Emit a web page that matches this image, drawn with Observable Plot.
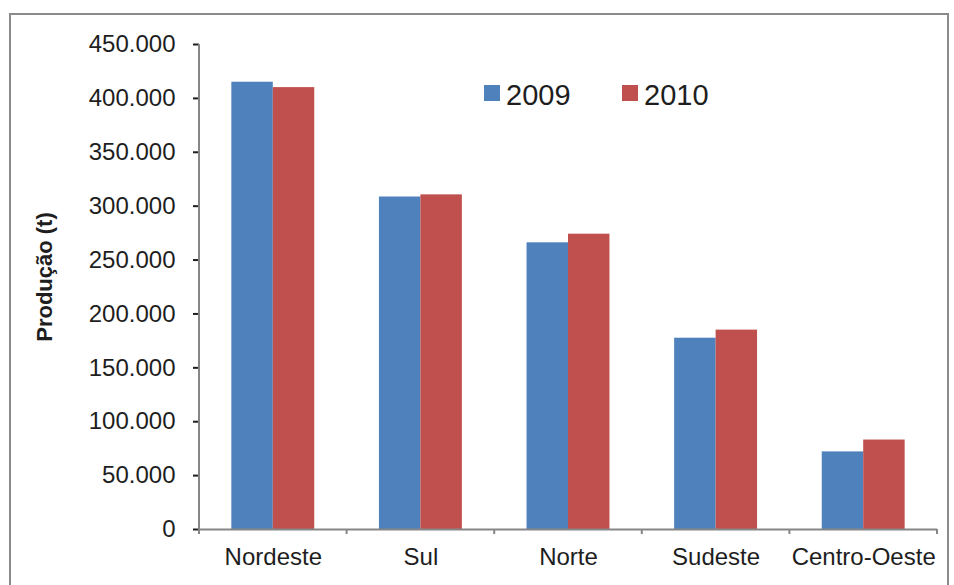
<!DOCTYPE html>
<html>
<head>
<meta charset="utf-8">
<script src="https://cdn.jsdelivr.net/npm/d3@7"></script>
<script src="https://cdn.jsdelivr.net/npm/@observablehq/plot@0.6"></script>
<style>
  html, body { margin: 0; padding: 0; background: #fff; }
  #wrap { position: relative; width: 954px; height: 585px; overflow: hidden; }
  #border { position: absolute; left: 9px; top: 13px; width: 940px; height: 640px;
            border: 2px solid #8a8a8a; box-sizing: border-box; }
  #chart { position: absolute; left: 0; top: 0; }
  svg { font-family: "Liberation Sans", Arial, sans-serif; }
</style>
</head>
<body>
<div id="wrap"><div id="border"></div><div id="chart"></div></div>
<script>
// Produção por região (toneladas), 2009 e 2010
const regions = ["Nordeste", "Sul", "Norte", "Sudeste", "Centro-Oeste"];
const years = ["2009", "2010"];
const values2009 = [415000, 308500, 266000, 177500, 72000];
const values2010 = [410000, 310500, 274000, 185000, 83000];
const yTicks = [0, 50000, 100000, 150000, 200000, 250000, 300000, 350000, 400000, 450000];
const yLabel = "Produção (t)";
const colors = ["#4F81BD", "#C0504D"];

const rows = [];
regions.forEach((r, i) => {
  rows.push({region: r, year: years[0], value: values2009[i]});
  rows.push({region: r, year: years[1], value: values2010[i]});
});

const ptBR = d3.formatLocale({decimal: ",", thousands: ".", grouping: [3], currency: ["R$", ""]});
const fmt = ptBR.format(",d");

const axisColor = "#868686";
const textColor = "#1e1e1e";

const chart = Plot.plot({
  width: 954,
  height: 585,
  marginLeft: 199,
  marginRight: 17,
  marginTop: 44,
  marginBottom: 56,
  style: {fontFamily: "Liberation Sans, Arial, sans-serif", fontSize: "24px", color: textColor, background: "transparent"},
  fx: {domain: regions, paddingInner: 0, paddingOuter: 0, round: false, label: null, axis: "bottom", tickSize: 0, tickPadding: 18},
  x: {domain: years, paddingInner: 0, paddingOuter: 0.78, round: false, axis: null},
  y: {domain: [0, 450000], ticks: yTicks, tickFormat: fmt, tickSize: 6, tickPadding: 18, label: null},
  color: {domain: years, range: colors},
  marks: [
    Plot.barY(rows, {fx: "region", x: "year", y: "value", fill: "year"}),
    Plot.ruleY([0], {stroke: axisColor, strokeWidth: 2})
  ]
});

document.getElementById("chart").appendChild(chart);

const svg = d3.select(chart);
svg.selectAll("[aria-label='y-axis tick']").attr("stroke", axisColor).attr("stroke-width", 2);

// axis line and category separator ticks, placed from the chart's own scales
const ys = chart.scale("y");
const fxs = chart.scale("fx");
const [yBottom, yTop] = ys.range;
const [fxLeft, fxRight] = fxs.range;
const step = (fxRight - fxLeft) / fxs.domain.length;
const g = svg.append("g").attr("stroke", axisColor).attr("stroke-width", 2);
g.append("line").attr("x1", fxLeft).attr("x2", fxLeft).attr("y1", yTop).attr("y2", yBottom + 1);
d3.range(fxs.domain.length + 1).forEach(i => {
  const x = fxLeft + i * step;
  g.append("line").attr("x1", x).attr("x2", x).attr("y1", yBottom).attr("y2", yBottom + 5);
});

// y axis title
svg.append("text")
  .attr("transform", "translate(52,277) rotate(-90)")
  .attr("text-anchor", "middle")
  .attr("font-weight", "bold")
  .attr("font-size", 22)
  .attr("fill", textColor)
  .text(yLabel);

// legend
const cs = chart.scale("color");
const legendX = [484, 622];
const leg = svg.append("g").attr("text-anchor", "start");
cs.domain.forEach((yr, i) => {
  leg.append("rect").attr("x", legendX[i]).attr("y", 85).attr("width", 16).attr("height", 16)
    .attr("fill", cs.range[i]);
  leg.append("text").attr("x", legendX[i] + 22).attr("y", 105)
    .attr("text-anchor", "start")
    .attr("font-size", 29).attr("fill", textColor).text(yr);
});
</script>
</body>
</html>
